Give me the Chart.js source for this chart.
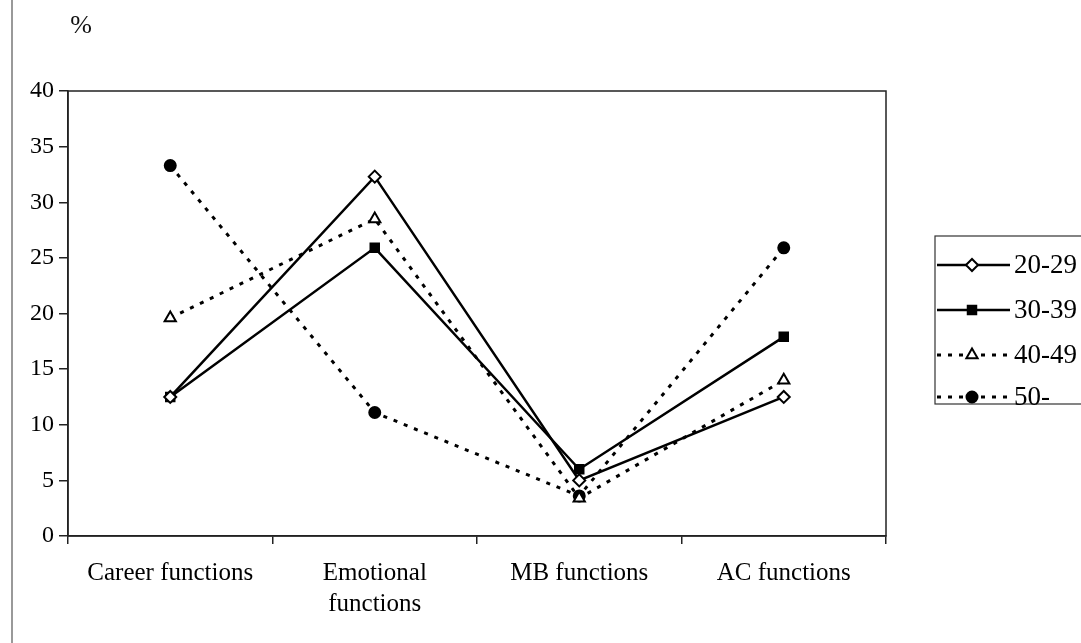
<!DOCTYPE html>
<html lang="en">
<head>
    <meta charset="UTF-8">
    <title>Functions by age</title>
    <script src="https://cdn.jsdelivr.net/npm/chart.js@4.4.1/dist/chart.umd.min.js"></script>
    <style>
        body { margin: 0; background: #fff; }
    </style>
</head>
<body>
<canvas id="chart" width="1081" height="643"></canvas>
<script>
    const categories = ['Career functions', ['Emotional', 'functions'], 'MB functions', 'AC functions'];
    const ageGroups = ['20-29', '30-39', '40-49', '50-'];
    const age2029 = [12.5, 32.3, 5.0, 12.5];
    const age3039 = [12.5, 25.9, 6.0, 17.9];
    const age4049 = [19.6, 28.5, 3.4, 14.0];
    const age50 = [33.3, 11.1, 3.6, 25.9];
    const yTicks = [0, 5, 10, 15, 20, 25, 30, 35, 40];

    const serif = '"Liberation Serif", "Times New Roman", serif';

    // frame, "%" label and legend drawn by hand
    const extras = {
        id: 'extras',
        afterDraw(chart) {
            const c = chart.ctx;
            const a = chart.chartArea;
            c.save();
            c.strokeStyle = '#222';
            c.lineWidth = 1.5;
            c.strokeRect(a.left, a.top, a.right - a.left, a.bottom - a.top);
            // scan border on the left
            c.strokeStyle = '#777';
            c.lineWidth = 1.5;
            c.beginPath();
            c.moveTo(12, 0);
            c.lineTo(12, 643);
            c.stroke();

            c.fillStyle = '#111';
            c.font = '26px ' + serif;
            c.textAlign = 'center';
            c.textBaseline = 'middle';
            c.fillText('%', 81, 26);

            // legend
            c.strokeStyle = '#333';
            c.lineWidth = 1.2;
            c.strokeRect(935, 236, 160, 168);
            const rows = [265, 310, 355, 397];
            chart.data.datasets.forEach((ds, i) => {
                const y = rows[i];
                c.strokeStyle = '#000';
                c.lineWidth = ds.borderWidth;
                c.setLineDash(ds.borderDash || []);
                c.beginPath();
                c.moveTo(937, y);
                c.lineTo(1010, y);
                c.stroke();
                c.setLineDash([]);
                c.fillStyle = ds.pointBackgroundColor;
                c.lineWidth = ds.pointBorderWidth;
                Chart.helpers.drawPoint(c, {
                    pointStyle: ds.pointStyle,
                    radius: ds.pointRadius,
                    borderWidth: ds.pointBorderWidth
                }, 972, y);
                c.fillStyle = '#000';
                c.textAlign = 'left';
                c.font = '27px ' + serif;
                c.fillText(ds.label, 1014, y + 1);
            });
            c.restore();
        }
    };

    function series(label, data, style, fill, dashed, radius) {
        return {
            label: label,
            data: data,
            borderColor: '#000',
            borderWidth: dashed ? 3 : 2.5,
            borderDash: dashed ? [4, 7] : [],
            pointStyle: style,
            pointRadius: radius,
            pointHoverRadius: radius,
            pointBackgroundColor: fill,
            pointBorderColor: '#000',
            pointBorderWidth: 2,
            tension: 0
        };
    }

    const ctx = document.getElementById('chart').getContext('2d');
    new Chart(ctx, {
        type: 'line',
        data: {
            labels: categories,
            datasets: [
                series(ageGroups[0], age2029, 'rectRot', '#fff', false, 6),
                series(ageGroups[1], age3039, 'rect', '#000', false, 6),
                series(ageGroups[2], age4049, 'triangle', '#fff', true, 6.5),
                series(ageGroups[3], age50, 'circle', '#000', true, 5.5)
            ]
        },
        options: {
            responsive: false,
            animation: false,
            layout: { padding: { left: 0, top: 91, right: 195, bottom: 0 } },
            plugins: {
                legend: { display: false },
                tooltip: { enabled: false }
            },
            scales: {
                x: {
                    offset: true,
                    grid: { offset: true, drawOnChartArea: false, color: '#222', tickLength: 8, lineWidth: 1.5 },
                    border: { color: '#222', width: 1.5 },
                    ticks: { color: '#000', font: { family: serif, size: 25, lineHeight: 1.25 }, padding: 14, maxRotation: 0, autoSkip: false },
                    afterFit(s) { s.height = 107; }
                },
                y: {
                    min: 0,
                    max: 40,
                    afterBuildTicks(s) { s.ticks = yTicks.map(v => ({ value: v })); },
                    grid: { drawOnChartArea: false, color: '#222', tickLength: 9, lineWidth: 1.5 },
                    border: { color: '#222', width: 1.5 },
                    ticks: { color: '#000', font: { family: serif, size: 24 }, padding: 5 },
                    afterFit(s) { s.width = 68; }
                }
            }
        },
        plugins: [extras]
    });
</script>
</body>
</html>
